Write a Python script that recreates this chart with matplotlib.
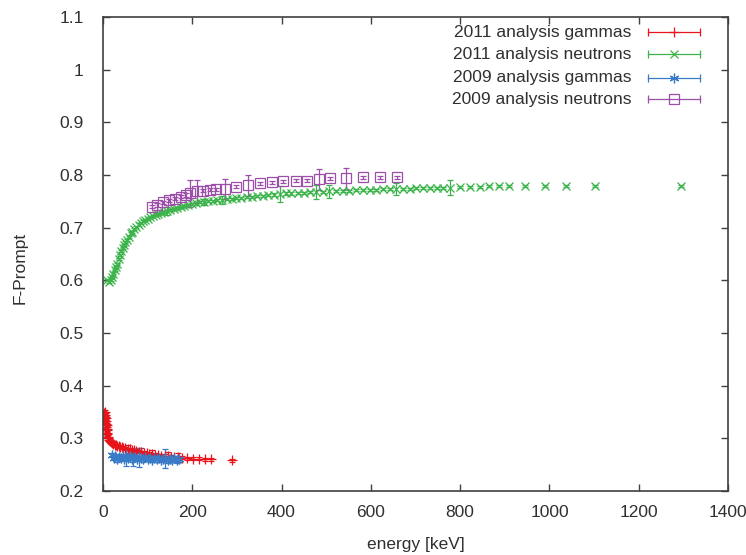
"""
F-Prompt vs energy, 2011 vs 2009 analysis (gnuplot style errorbars)
"""

import matplotlib
matplotlib.use("Agg")
import matplotlib.pyplot as plt

# 2011 analysis gammas
g11_e = [2, 3, 3, 4, 4, 5, 5, 6, 6, 7, 7, 8, 8, 9, 9, 10, 11, 12, 14, 16,
         18, 20, 23, 26, 29, 32, 35, 38, 42, 46, 50, 55, 60, 65, 70, 75, 80, 86, 92, 98,
         104, 110, 117, 124, 131, 138, 145, 152, 160, 168, 176, 189, 202, 215, 228, 243, 288]
g11_f = [0.348, 0.343, 0.336, 0.350, 0.340, 0.345, 0.333, 0.338, 0.328, 0.332, 0.322, 0.326, 0.315, 0.318, 0.310, 0.308, 0.303, 0.300, 0.297, 0.295,
         0.293, 0.291, 0.290, 0.288, 0.287, 0.286, 0.285, 0.284, 0.283, 0.282, 0.281, 0.280, 0.279, 0.278, 0.277, 0.276, 0.275, 0.274, 0.273, 0.272,
         0.271, 0.270, 0.269, 0.268, 0.267, 0.267, 0.266, 0.265, 0.264, 0.264, 0.263, 0.262, 0.261, 0.261, 0.260, 0.260, 0.258]
g11_err = [0.003, 0.003, 0.003, 0.003, 0.003, 0.003, 0.003, 0.003, 0.003, 0.003, 0.003, 0.003, 0.003, 0.003, 0.003, 0.003, 0.003, 0.003, 0.003, 0.003,
           0.003, 0.003, 0.003, 0.003, 0.003, 0.003, 0.003, 0.003, 0.003, 0.003, 0.003, 0.008, 0.003, 0.003, 0.003, 0.003, 0.003, 0.008, 0.003, 0.003,
           0.003, 0.008, 0.003, 0.003, 0.003, 0.003, 0.009, 0.003, 0.003, 0.009, 0.003, 0.003, 0.003, 0.003, 0.003, 0.003, 0.003]

# 2011 analysis neutrons
n11_e = [10, 14, 17, 20, 23, 26, 29, 32, 35, 38, 41, 44, 47, 50, 54, 58, 62, 66, 70, 75,
         80, 85, 90, 95, 100, 106, 112, 118, 124, 130, 137, 144, 151, 158, 166, 174, 182, 190, 199, 208,
         217, 226, 236, 246, 256, 266, 277, 288, 299, 310, 322, 334, 346, 358, 370, 383, 396, 409, 422, 436,
         450, 464, 478, 492, 507, 522, 537, 552, 567, 582, 597, 612, 627, 642, 657, 672, 687, 702, 717, 732,
         747, 762, 778, 800, 822, 845, 865, 887, 910, 945, 990, 1037, 1102, 1295]
n11_f = [0.600, 0.597, 0.600, 0.606, 0.613, 0.619, 0.625, 0.631, 0.640, 0.648, 0.655, 0.662, 0.667, 0.672, 0.677, 0.683, 0.689, 0.692, 0.697, 0.702,
         0.706, 0.709, 0.712, 0.715, 0.717, 0.720, 0.722, 0.724, 0.726, 0.728, 0.730, 0.732, 0.734, 0.735, 0.737, 0.739, 0.741, 0.743, 0.745, 0.746,
         0.748, 0.749, 0.750, 0.751, 0.752, 0.753, 0.754, 0.755, 0.756, 0.757, 0.758, 0.759, 0.760, 0.761, 0.762, 0.763, 0.764, 0.765, 0.765, 0.766,
         0.766, 0.767, 0.768, 0.768, 0.769, 0.769, 0.770, 0.770, 0.771, 0.771, 0.772, 0.772, 0.773, 0.773, 0.774, 0.774, 0.774, 0.775, 0.775, 0.775,
         0.776, 0.776, 0.776, 0.778, 0.778, 0.778, 0.779, 0.779, 0.779, 0.779, 0.779, 0.780, 0.780, 0.780]
n11_err = [0.002] * 31 + [0.008] + [0.002] * 9 + [0.006] + [0.002] * 3 + [0.008] + [0.002] * 10 + [0.015] \
    + [0.002] * 5 + [0.013] + [0.002] + [0.012] + [0.002] * 9 + [0.011] + [0.002] * 7 + [0.014] + [0.002] * 11

# 2009 analysis gammas
g09_e = [20, 24, 28, 32, 36, 40, 44, 48, 52, 56, 60, 64, 68, 72, 76, 80, 85,
         90, 95, 100, 105, 110, 115, 120, 125, 130, 135, 140, 145, 150, 155, 160, 165, 170]
g09_f = [0.268, 0.262, 0.266, 0.260, 0.265, 0.263, 0.267, 0.261, 0.264, 0.262, 0.266, 0.260, 0.263, 0.265, 0.261, 0.264, 0.262,
         0.260, 0.264, 0.261, 0.263, 0.259, 0.262, 0.260, 0.263, 0.259, 0.261, 0.262, 0.258, 0.261, 0.259, 0.262, 0.258, 0.260]
g09_err = [0.004, 0.004, 0.004, 0.004, 0.004, 0.004, 0.004, 0.004, 0.017, 0.004, 0.004, 0.004, 0.016, 0.004, 0.004, 0.018, 0.004,
           0.004, 0.004, 0.004, 0.004, 0.004, 0.004, 0.004, 0.004, 0.004, 0.004, 0.018, 0.004, 0.004, 0.004, 0.004, 0.004, 0.004]

# 2009 analysis neutrons
n09_e = [109, 122, 135, 148, 161, 174, 186, 196, 210, 225, 240, 254, 273,
         299, 324, 352, 378, 404, 432, 458, 484, 508, 544, 583, 620, 658]
n09_f = [0.740, 0.743, 0.748, 0.752, 0.755, 0.759, 0.762, 0.765, 0.769, 0.770, 0.772, 0.773, 0.774,
         0.778, 0.781, 0.784, 0.786, 0.788, 0.789, 0.789, 0.792, 0.794, 0.794, 0.796, 0.796, 0.796]
n09_err = [0.003, 0.003, 0.003, 0.003, 0.003, 0.003, 0.003, 0.026, 0.022, 0.003, 0.003, 0.003, 0.019,
           0.003, 0.020, 0.003, 0.003, 0.003, 0.003, 0.003, 0.020, 0.003, 0.020, 0.003, 0.003, 0.003]

labels = ["2011 analysis gammas", "2011 analysis neutrons",
          "2009 analysis gammas", "2009 analysis neutrons"]
xticks = [0, 200, 400, 600, 800, 1000, 1200, 1400]
yticks = [0.2, 0.3, 0.4, 0.5, 0.6, 0.7, 0.8, 0.9, 1.0, 1.1]
ytick_labels = ["0.2", "0.3", "0.4", "0.5", "0.6", "0.7", "0.8", "0.9", "1", "1.1"]

RED = "#e8141c"
GREEN = "#3cb44b"
BLUE = "#3a7bc8"
PURPLE = "#9b4fa8"
TXT = "#303030"
FS = 12.5

plt.rcParams['font.family'] = ['Liberation Sans', 'DejaVu Sans']
plt.rcParams['font.size'] = FS

fig = plt.figure(figsize=(7.46, 5.55), dpi=100)
ax = fig.add_axes([0.138, 0.1153, 0.838, 0.854])

series = [
    (g11_e, g11_f, g11_err, RED, "+", 7.5),
    (n11_e, n11_f, n11_err, GREEN, "x", 5.5),
    (g09_e, g09_f, g09_err, BLUE, (6, 2, 0), 7.0),
    (n09_e, n09_f, n09_err, PURPLE, "s", 6.5),
]

for e, f, err, col, mk, ms in series:
    ax.errorbar(e, f, yerr=err, fmt="", marker=mk, ls="none", color=col, ms=ms, mew=0.9,
                mfc="none", mec=col, elinewidth=0.9, capsize=2.5, capthick=0.9)

ax.set_xlim(0, 1400)
ax.set_ylim(0.2, 1.1)
ax.set_xticks(xticks)
ax.set_xticklabels([str(t) for t in xticks])
ax.set_yticks(yticks)
ax.set_yticklabels(ytick_labels)
ax.tick_params(direction="in", length=5, width=1, color="#404040",
               top=True, right=True, labelcolor=TXT, labelsize=FS)
ax.tick_params(axis="x", pad=10)
ax.tick_params(axis="y", pad=14)
for s in ax.spines.values():
    s.set_color("#404040")
    s.set_linewidth(1.2)

ax.set_xlabel("energy [keV]", color=TXT, fontsize=FS, labelpad=12)
ax.set_ylabel("F-Prompt", color=TXT, fontsize=FS)
ax.yaxis.set_label_coords(-0.12, 0.47)

# gnuplot-like legend: right aligned text, errorbar sample on the right
rows = [0.9677, 0.9213, 0.872, 0.8264]
for (e, f, err, col, mk, ms), lab, yy in zip(series, labels, rows):
    ax.text(0.846, yy, lab, transform=ax.transAxes, ha="right", va="center",
            color=TXT, fontsize=FS)
    ax.plot([0.8715, 0.9552], [yy, yy], color=col, lw=0.9, transform=ax.transAxes, clip_on=False)
    ax.plot([0.8715, 0.9552], [yy, yy], ls="none", marker="|", ms=6, mew=0.9,
            color=col, transform=ax.transAxes, clip_on=False)
    ax.plot([0.9134], [yy], ls="none", marker=mk, ms=ms, mew=0.9, mfc="none",
            mec=col, transform=ax.transAxes, clip_on=False)

fig.savefig("out.png", dpi=100)
